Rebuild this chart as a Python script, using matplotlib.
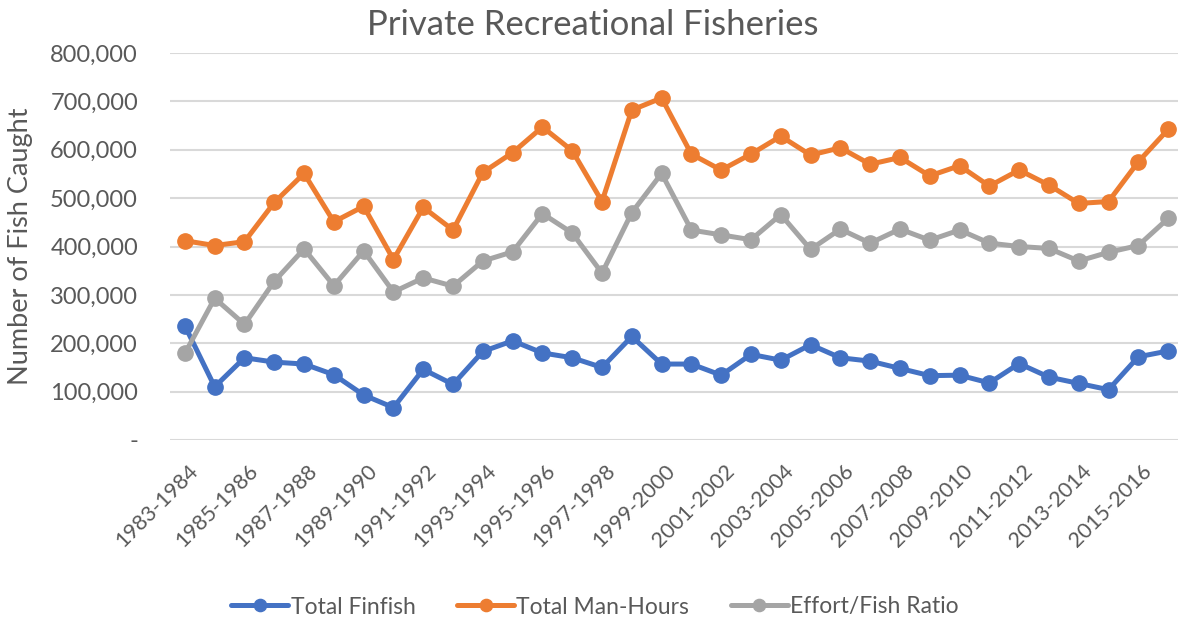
import matplotlib.pyplot as plt
from matplotlib.ticker import FuncFormatter, MultipleLocator
from matplotlib.transforms import ScaledTranslation

# seasons 1983-1984 ... 2016-2017
seasons = [f'{y}-{y + 1}' for y in range(1983, 2017)]

total_finfish = [
    236000, 110000, 170000, 161000, 157000, 135000, 93000, 67000, 146000, 115000,
    183000, 205000, 180000, 170000, 150000, 214000, 157000, 157000, 134000, 177000,
    165000, 197000, 170000, 163000, 148000, 133000, 134000, 118000, 158000, 130000,
    117000, 104000, 172000, 184000,
]
total_man_hours = [
    412000, 402000, 410000, 491000, 551000, 451000, 483000, 373000, 481000, 434000,
    553000, 594000, 647000, 598000, 493000, 682000, 707000, 591000, 558000, 591000,
    628000, 589000, 604000, 570000, 584000, 546000, 567000, 525000, 558000, 527000,
    489000, 493000, 575000, 642000,
]
effort_fish_ratio = [
    179000, 293000, 239000, 328000, 395000, 319000, 391000, 306000, 335000, 318000,
    370000, 389000, 468000, 428000, 345000, 470000, 551000, 434000, 424000, 414000,
    466000, 394000, 436000, 407000, 436000, 413000, 434000, 407000, 400000, 396000,
    370000, 388000, 402000, 458000,
]

series_names = ['Total Finfish', 'Total Man-Hours', 'Effort/Fish Ratio']
series_colors = ['#4472C4', '#ED7D31', '#A5A5A5']

TEXT = '#595959'
plt.rcParams['font.family'] = ['Lato', 'DejaVu Sans']

fig = plt.figure(figsize=(11.78, 6.27), dpi=100)
ax = fig.add_axes([170 / 1178, 1 - 440 / 627, 1013 / 1178, 387 / 627])

x = list(range(len(seasons)))
for vals, name, col in zip([total_finfish, total_man_hours, effort_fish_ratio],
                           series_names, series_colors):
    ax.plot(x, vals, color=col, lw=3.6, marker='o', markersize=11,
            label=name, solid_capstyle='round', zorder=3)

ax.set_xlim(-0.5, len(seasons) - 0.5)
ax.set_ylim(0, 800000)
ax.yaxis.set_major_locator(MultipleLocator(100000))
ax.yaxis.set_major_formatter(
    FuncFormatter(lambda v, p: '-' if v == 0 else f'{int(v):,}'))
ax.grid(axis='y', color='#D9D9D9', lw=1.5)
ax.set_axisbelow(True)

ax.set_xticks(x[::2])
ax.set_xticklabels(seasons[::2], rotation=45, ha='right', rotation_mode='anchor')
ax.tick_params(axis='x', length=0, pad=15, labelsize=15.5, labelcolor=TEXT)
ax.tick_params(axis='y', length=0, pad=23, labelsize=17, labelcolor=TEXT)
# nudge the slanted labels a little to the right, like Excel does
shift = ScaledTranslation(3 / 100, 0, fig.dpi_scale_trans)
for lbl in ax.get_xticklabels():
    lbl.set_transform(lbl.get_transform() + shift)

for s in ax.spines.values():
    s.set_visible(False)

fig.text(21 / 1178, 1 - 246 / 627, 'Number of Fish Caught', rotation=90,
         ha='center', va='center', fontsize=19.5, color=TEXT)
fig.text(593 / 1178, 1 - 25 / 627, 'Private Recreational Fisheries',
         ha='center', va='center', fontsize=25, color=TEXT)

fig.legend(loc='center', bbox_to_anchor=(595 / 1178, 1 - 607 / 627), ncol=3,
           frameon=False, fontsize=16.5, labelcolor=TEXT, handlelength=2.5,
           columnspacing=1.8, handletextpad=0.1, markerscale=0.8)

fig.savefig('out.png', dpi=100)
